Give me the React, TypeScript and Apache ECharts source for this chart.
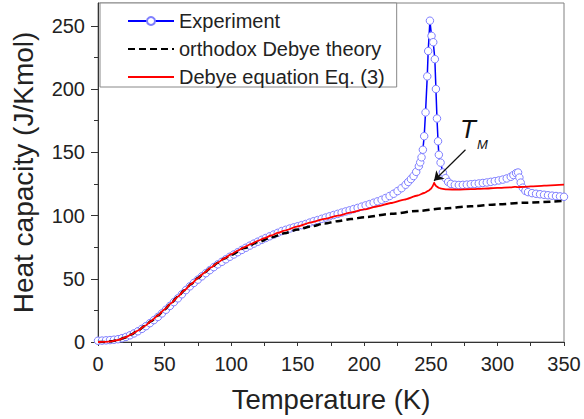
import React, { useEffect, useRef } from 'react';
import * as echarts from 'echarts';

const FONT = '"Liberation Sans", Arial, Helvetica, sans-serif';

// Experiment (open circles + blue line)
const expT = [0,3,6,9,12,15,18,21,24,27,30,33,36,39,42,45,48,51,54,57,60,63,66,69,
  72,75,78,81,84,87,90,93,96,99,102,105,108,111,114,117,120,123,126,129,132,135,138,141,144,147,150,153,156,159,162,165,168,171,174,177,180,183,186,189,192,195,198,201,204,207,210,213,216,219,222,225,228,231,
  233,235,237,239,241,242,243,244,245,246,
  247.3,248,249.3,250.5,251.8,253,253.8,254.6,255.4,256,257.3,
  259,261,263,265,
  268,271,274,277,280,283,286,289,292,295,298,301,304,307,310,
  312,314,315.5,316.5,317.5,319,321,323,
  326,329,332,335,338,341,344,347,350];
const expC = [1.0,1.1,1.3,1.5,1.8,2.2,3.0,4.0,5.3,6.8,8.5,10.4,12.5,14.9,17.3,19.8,22.6,25.5,28.5,31.5,34.5,37.7,41.0,44.0,
  46.7,49.3,51.9,54.4,56.8,59.2,61.4,63.4,65.4,67.4,69.2,71.0,72.8,74.5,76.2,77.8,79.3,80.8,82.2,83.6,85.0,86.3,87.7,88.7,89.7,90.6,91.5,92.4,93.3,94.4,95.5,96.4,97.4,98.4,99.4,100.4,101.3,102.3,103.2,104.1,105.1,106.0,107.0,108.0,109.0,110.1,111.2,112.4,113.8,115.4,117.2,119.3,121.6,124.3,
  126.5,128.8,131.2,134.5,139,142,146,152,162.7,181.5,
  210,230,254,242,237,223.6,200,176.7,158.7,148,141.8,
  134,129.5,126.5,125,
  124.3,124.1,124.2,124.4,124.7,125.0,125.3,125.7,126.1,126.6,127.1,127.7,128.4,129.3,130.6,
  132,133.5,134,130,126,122,119.5,118.5,
  117.7,117.2,116.8,116.4,116.0,115.7,115.4,115.1,114.8];

// orthodox Debye theory (black dashed)
const debT = [0,5,10,15,20,25,30,35,40,45,50,55,60,65,70,75,80,85,90,95,100,110,120,130,140,150,160,170,180,190,200,220,240,260,280,300,320,350];
const debC = [0,0.05,0.5,1.6,3.4,5.9,9.0,12.6,16.6,21.0,25.8,30.8,35.9,41.0,45.9,50.5,54.9,58.9,62.6,66.0,69.0,74.3,78.8,82.7,86.0,88.9,91.4,93.6,95.5,97.2,98.7,101.3,103.6,105.6,107.3,108.8,110.1,111.6];

// Debye equation Eq. (3) (red)
const eq3T = [0,5,10,15,20,25,30,35,40,45,50,55,60,65,70,75,80,85,90,95,100,105,110,115,120,125,130,135,140,150,160,170,180,190,200,210,220,230,240,245,248,250,251,252,252.5,253,254,256,258,262,270,280,290,300,310,313,315,320,330,340,350];
const eq3C = [0,0.05,0.5,1.6,3.4,5.9,9.0,12.6,16.6,21.0,25.8,30.8,35.9,41.0,45.9,50.5,54.9,59.0,62.8,66.2,69.4,72.3,75.0,77.5,79.9,82.1,84.2,86.2,88.0,91.4,94.5,97.3,99.9,102.4,104.8,107.3,109.9,112.6,115.8,117.8,119.4,121.0,122.5,124.5,126.0,124.6,123.2,121.9,121.2,120.6,120.5,120.8,121.3,121.8,122.3,122.7,122.4,122.7,123.3,123.9,124.4];

const xTickValues = [0,25,50,75,100,125,150,175,200,225,250,275,300,325,350];
const xLabelValues = [0,50,100,150,200,250,300,350];
const yMajorValues = [0,50,100,150,200,250];
const yMinorValues = [25,75,125,175,225];

// T_M arrow (data coordinates)
const arrowFrom = [276, 152];
const arrowTo = [252.4, 127.5];

const zip = (a: number[], b: number[]) => a.map((v, i) => [v, b[i]]);

export default function App() {
  const ref = useRef<HTMLDivElement>(null);
  useEffect(() => {
    const chart = echarts.init(ref.current!, null, { renderer: 'svg' });
    chart.setOption({
      animation: false,
      backgroundColor: '#ffffff',
      textStyle: { fontFamily: FONT },
      grid: { left: 98, right: 20, top: 3, bottom: 77, show: true, borderColor: '#808080', borderWidth: 1 },
      xAxis: {
        type: 'value', min: 0, max: 350, interval: 50,
        axisLine: { show: true, lineStyle: { color: '#333', width: 1 } },
        axisTick: { show: true, inside: false, length: 4, lineStyle: { color: '#333' }, customValues: xTickValues },
        axisLabel: { color: '#222', fontSize: 20, margin: 12, fontFamily: FONT, customValues: xLabelValues },
        splitLine: { show: false },
        name: 'Temperature (K)', nameLocation: 'middle', nameGap: 43,
        nameTextStyle: { fontSize: 27.5, color: '#222', fontFamily: FONT },
      },
      yAxis: [
        {
          type: 'value', min: 0, max: 268, interval: 50,
          axisLine: { show: true, lineStyle: { color: '#333', width: 1 } },
          axisTick: { show: true, inside: false, length: 7, lineStyle: { color: '#333' }, customValues: yMajorValues },
          axisLabel: { color: '#222', fontSize: 20, margin: 13, fontFamily: FONT, customValues: yMajorValues },
          splitLine: { show: false },
          name: 'Heat capacity (J/Kmol)', nameLocation: 'middle', nameGap: 61,
          nameTextStyle: { fontSize: 28, color: '#222', fontFamily: FONT },
        },
        {
          type: 'value', min: 0, max: 268, interval: 50, position: 'left', offset: 0,
          axisLine: { show: false },
          axisTick: { show: true, inside: false, length: 4, lineStyle: { color: '#333' }, customValues: yMinorValues },
          axisLabel: { show: false },
          splitLine: { show: false },
        },
      ],
      legend: {
        orient: 'vertical', left: 100, top: 3,
        padding: [8, 12, 0, 27], itemGap: 8, itemWidth: 46, itemHeight: 10,
        backgroundColor: '#fff', borderColor: '#888', borderWidth: 1,
        textStyle: { fontSize: 20, color: '#222', fontFamily: FONT, lineHeight: 18 },
        data: ['Experiment', 'orthodox Debye theory', 'Debye equation Eq. (3)'],
      },
      graphic: [
        { type: 'text', x: 460, y: 116, style: { text: 'T', fontSize: 26, fontStyle: 'italic', fontFamily: FONT, fill: '#111', verticalAlign: 'top' } },
        { type: 'text', x: 477, y: 138, style: { text: 'M', fontSize: 13, fontStyle: 'italic', fontFamily: FONT, fill: '#111', verticalAlign: 'top' } },
      ],
      series: [
        {
          name: 'Experiment', type: 'line', z: 2, data: zip(expT, expC),
          symbol: 'circle', symbolSize: 7.5, showAllSymbol: true,
          lineStyle: { color: '#0000ff', width: 1.5 },
          itemStyle: { color: '#ffffff', borderColor: '#7f7fff', borderWidth: 1 },
          emphasis: { disabled: true },
        },
        {
          name: 'orthodox Debye theory', type: 'line', z: 3, data: zip(debT, debC),
          symbol: 'circle', showSymbol: false, smooth: 0.3, smoothMonotone: 'x',
          lineStyle: { color: '#000', width: 2.5, type: [7, 4] },
          itemStyle: { color: '#000', opacity: 0 },
          emphasis: { disabled: true },
        },
        {
          name: 'Debye equation Eq. (3)', type: 'line', z: 4, data: zip(eq3T, eq3C),
          symbol: 'circle', showSymbol: false, smooth: 0.2, smoothMonotone: 'x',
          lineStyle: { color: '#ff0000', width: 1.8 },
          itemStyle: { color: '#ff0000', opacity: 0 },
          emphasis: { disabled: true },
          markLine: {
            silent: true, symbol: ['none', 'arrow'], symbolSize: 9,
            label: { show: false },
            lineStyle: { color: '#111', width: 1.2, type: 'solid', opacity: 1 },
            itemStyle: { opacity: 1 },
            data: [[{ coord: arrowFrom }, { coord: arrowTo }]],
          },
        },
      ],
    });
    return () => chart.dispose();
  }, []);
  return <div ref={ref} style={{ width: 584, height: 419, position: 'absolute', left: 0, top: 0 }} />;
}
